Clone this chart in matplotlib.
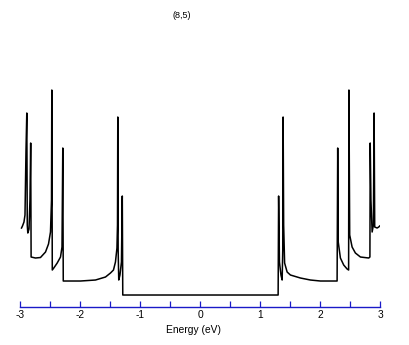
import numpy as np
import matplotlib
matplotlib.use("Agg")
import matplotlib.pyplot as plt
from matplotlib.ticker import MultipleLocator

# density of states of the (8,5) tube (arb. units)
energy = [-2.983, -2.967, -2.942, -2.925, -2.908, -2.895, -2.887, -2.878, -2.858, -2.842,
          -2.830, -2.823, -2.750, -2.667, -2.583, -2.533, -2.500, -2.483, -2.478, -2.470,
          -2.445, -2.388, -2.333, -2.308, -2.295, -2.287, -2.167, -2.000, -1.750, -1.583,
          -1.500, -1.450, -1.417, -1.392, -1.383, -1.378, -1.372, -1.362, -1.342, -1.317,
          -1.303, -1.295,
          1.295, 1.303, 1.317, 1.342, 1.362, 1.372, 1.378, 1.387, 1.403, 1.445,
          1.500, 1.667, 1.833, 2.000, 2.278, 2.288, 2.297, 2.333, 2.388, 2.445,
          2.470, 2.475, 2.488, 2.528, 2.583, 2.667, 2.805, 2.825, 2.830, 2.842,
          2.862, 2.883, 2.895, 2.905, 2.945, 2.972, 2.988]
dos = [0.79, 0.81, 0.85, 0.92, 1.57, 1.94, 0.82, 0.74, 0.78, 1.07,
       1.64, 0.50, 0.49, 0.495, 0.55, 0.63, 0.75, 1.07, 2.17, 0.37,
       0.39, 0.44, 0.50, 0.60, 1.59, 0.26, 0.26, 0.26, 0.27, 0.30,
       0.34, 0.37, 0.45, 0.59, 0.82, 1.90, 0.57, 0.27, 0.32, 0.45,
       1.11, 0.12,
       0.12, 1.11, 0.45, 0.32, 0.27, 0.57, 1.90, 0.82, 0.44, 0.35,
       0.32, 0.29, 0.27, 0.26, 0.26, 1.59, 0.65, 0.49, 0.42, 0.38,
       0.37, 2.17, 0.72, 0.60, 0.54, 0.50, 0.49, 0.50, 1.64, 1.07,
       0.75, 0.82, 1.94, 0.80, 0.79, 0.80, 0.81]

title = "(8,5)"
xlabel = "Energy (eV)"
xticks = [-3, -2, -1, 0, 1, 2, 3]

axis_blue = "#1a1ac8"
plt.rcParams["font.family"] = ["Liberation Sans", "DejaVu Sans"]

fig = plt.figure(figsize=(4.09, 3.45), dpi=100)
ax = fig.add_axes([0.0501, 0.1101, 0.880, 0.8319])

ax.plot(energy, dos, color="black", linewidth=1.1)

ax.set_xlim(-3, 3)
ax.set_ylim(0, 2.87)

for side in ("top", "left", "right"):
    ax.spines[side].set_visible(False)
ax.spines["bottom"].set_color(axis_blue)
ax.spines["bottom"].set_linewidth(1.0)

ax.set_yticks([])
ax.set_xticks(xticks)
ax.set_xticklabels([str(t) for t in xticks])
ax.xaxis.set_minor_locator(MultipleLocator(0.5))
ax.tick_params(axis="x", which="both", direction="in", length=4.5, width=0.9,
               color=axis_blue, labelsize=7.4, pad=2.5, labelcolor="black")

ax.set_xlabel(xlabel, fontsize=7.4)
ax.xaxis.set_label_coords(0.482, -0.062)

fig.text(181.5 / 409, 1 - 16 / 345, title, fontsize=6.5, ha="center", va="center")

fig.savefig("out.png", dpi=100)
